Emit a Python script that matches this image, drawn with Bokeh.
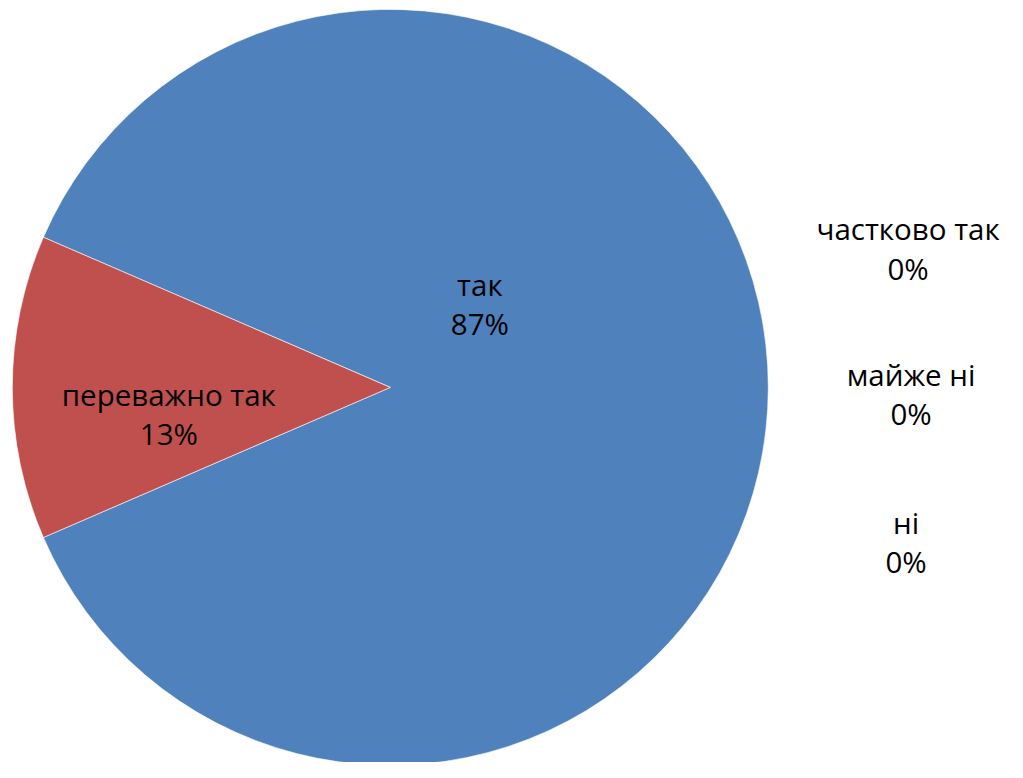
import math
from bokeh.plotting import figure
from bokeh.models import Range1d, ColumnDataSource
from bokeh.core.properties import value
from bokeh.embed import file_html
from bokeh.resources import INLINE

# ---- data ----
categories = ["так", "переважно так", "частково так", "майже ні", "ні"]
values = [87, 13, 0, 0, 0]
colors = ["#4F81BD", "#C0504D", "#9BBB59", "#8064A2", "#4BACC6"]

# ---- layout (reference pixel coordinates, 1023 x 778) ----
W, H = 1007, 762
REF_W, REF_H = 1023, 778
cx, cy, R = 396, 395, 384
label_x = [487, 171, 922, 925, 920]
label_name_y = [290, 402, 233, 382, 533]
label_pct_y = [330, 442, 274, 422, 573]

def sy(y):
    return REF_H - y

p = figure(width=W, height=H, output_backend="svg", toolbar_location=None,
           x_range=Range1d(0, REF_W), y_range=Range1d(0, REF_H),
           min_border=0, outline_line_color=None, background_fill_color="white")
p.axis.visible = False
p.grid.visible = False

total = sum(values)
start = math.pi + math.pi * values[1] / total  # red slice centred on the left
starts, ends, cols = [], [], []
a = start
for v, c in zip(values, colors):
    span = 2 * math.pi * v / total
    if v > 0:
        starts.append(a)
        ends.append(a + span)
        cols.append(c)
    a += span

src = ColumnDataSource(dict(x=[cx] * len(starts), y=[sy(cy)] * len(starts),
                            s=starts, e=ends, c=cols))
p.wedge(x="x", y="y", radius=R, start_angle="s", end_angle="e", source=src,
        fill_color="c", line_color="white", line_width=0.6)

lsrc = ColumnDataSource(dict(
    x=label_x,
    yn=[sy(y) for y in label_name_y],
    yp=[sy(y) for y in label_pct_y],
    name=categories,
    pct=[f"{v}%" for v in values],
))
for col, ycol in (("name", "yn"), ("pct", "yp")):
    p.text(x="x", y=ycol, text=col, source=lsrc, text_font=value("Open Sans"),
           text_font_size="29.5px", text_align="center", text_baseline="alphabetic",
           text_color="black")

open("out.html", "w").write(file_html(p, INLINE))
